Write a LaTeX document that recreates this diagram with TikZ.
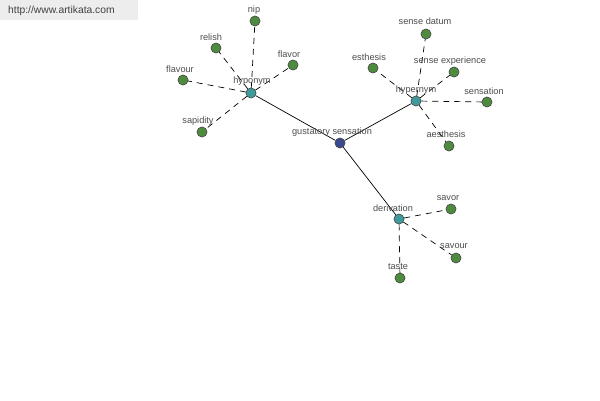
\documentclass[tikz,border=0pt]{standalone}
\usepackage{fontspec}
\setmainfont{Liberation Sans}
\begin{document}
\begin{tikzpicture}[x=1pt,y=-1pt,
  leaf/.style={circle,draw=black!70,fill=leafgreen,minimum size=10pt,inner sep=0pt,line width=0.5pt},
  hub/.style={circle,draw=black!70,fill=hubteal,minimum size=10pt,inner sep=0pt,line width=0.5pt},
  core/.style={circle,draw=black!70,fill=corenavy,minimum size=10pt,inner sep=0pt,line width=0.5pt},
  lbl/.style={text=black!70,font=\fontsize{9.2}{10}\selectfont,inner sep=0pt},
  rel/.style={dash pattern=on 6pt off 5pt,line width=0.7pt},
  main/.style={line width=0.7pt}]
\definecolor{leafgreen}{HTML}{4E8B3F}
\definecolor{hubteal}{HTML}{3F9A9C}
\definecolor{corenavy}{HTML}{3B4A8F}
\useasboundingbox (0,0) rectangle (600,400);
\fill[black!7] (0,0) rectangle (138,20);
\node[text=black!75,font=\fontsize{10.3}{11}\selectfont,anchor=west,inner sep=0pt] (url) at (8,11) {http://www.artikata.com};
% nodes
\node[core] (gs) at (340,143) {};
\node[hub] (hypo) at (251,93) {};
\node[hub] (hyper) at (416,101) {};
\node[hub] (der) at (399,219) {};
\node[leaf] (nip) at (255,21) {};
\node[leaf] (relish) at (216,48) {};
\node[leaf] (flavor) at (293,65) {};
\node[leaf] (flavour) at (183,80) {};
\node[leaf] (sapidity) at (202,132) {};
\node[leaf] (sdatum) at (426,34) {};
\node[leaf] (esthesis) at (373,68) {};
\node[leaf] (sexp) at (454,72) {};
\node[leaf] (sensation) at (487,102) {};
\node[leaf] (aesthesis) at (449,146) {};
\node[leaf] (savor) at (451,209) {};
\node[leaf] (savour) at (456,258) {};
\node[leaf] (taste) at (400,278) {};
% edges
\draw[main] (gs) -- (hypo);
\draw[main] (gs) -- (hyper);
\draw[main] (gs) -- (der);
\foreach \t in {nip,relish,flavor,flavour,sapidity} \draw[rel] (hypo) -- (\t);
\foreach \t in {sdatum,esthesis,sexp,sensation,aesthesis} \draw[rel] (hyper) -- (\t);
\foreach \t in {savor,savour,taste} \draw[rel] (der) -- (\t);
% redraw circles on top
\node[core] at (gs) {};
\foreach \n in {hypo,hyper,der} \node[hub] at (\n) {};
\foreach \n in {nip,relish,flavor,flavour,sapidity,sdatum,esthesis,sexp,sensation,aesthesis,savor,savour,taste} \node[leaf] at (\n) {};
% labels
\node[lbl] (l-gs) at (332,132) {gustatory sensation};
\node[lbl] (l-hypo) at (252,81) {hyponym};
\node[lbl] (l-hyper) at (416,90) {hypernym};
\node[lbl] (l-der) at (393,208) {derivation};
\node[lbl] (l-nip) at (254,10) {nip};
\node[lbl] (l-relish) at (211,37) {relish};
\node[lbl] (l-flavor) at (289,54) {flavor};
\node[lbl] (l-flavour) at (180,69) {flavour};
\node[lbl] (l-sapidity) at (198,121) {sapidity};
\node[lbl] (l-sdatum) at (425,21) {sense datum};
\node[lbl] (l-esthesis) at (369,57) {esthesis};
\node[lbl] (l-sexp) at (450,61) {sense experience};
\node[lbl] (l-sensation) at (484,91) {sensation};
\node[lbl] (l-aesthesis) at (446,134) {aesthesis};
\node[lbl] (l-savor) at (448,198) {savor};
\node[lbl] (l-savour) at (454,246) {savour};
\node[lbl] (l-taste) at (398,267) {taste};
\end{tikzpicture}
\end{document}
